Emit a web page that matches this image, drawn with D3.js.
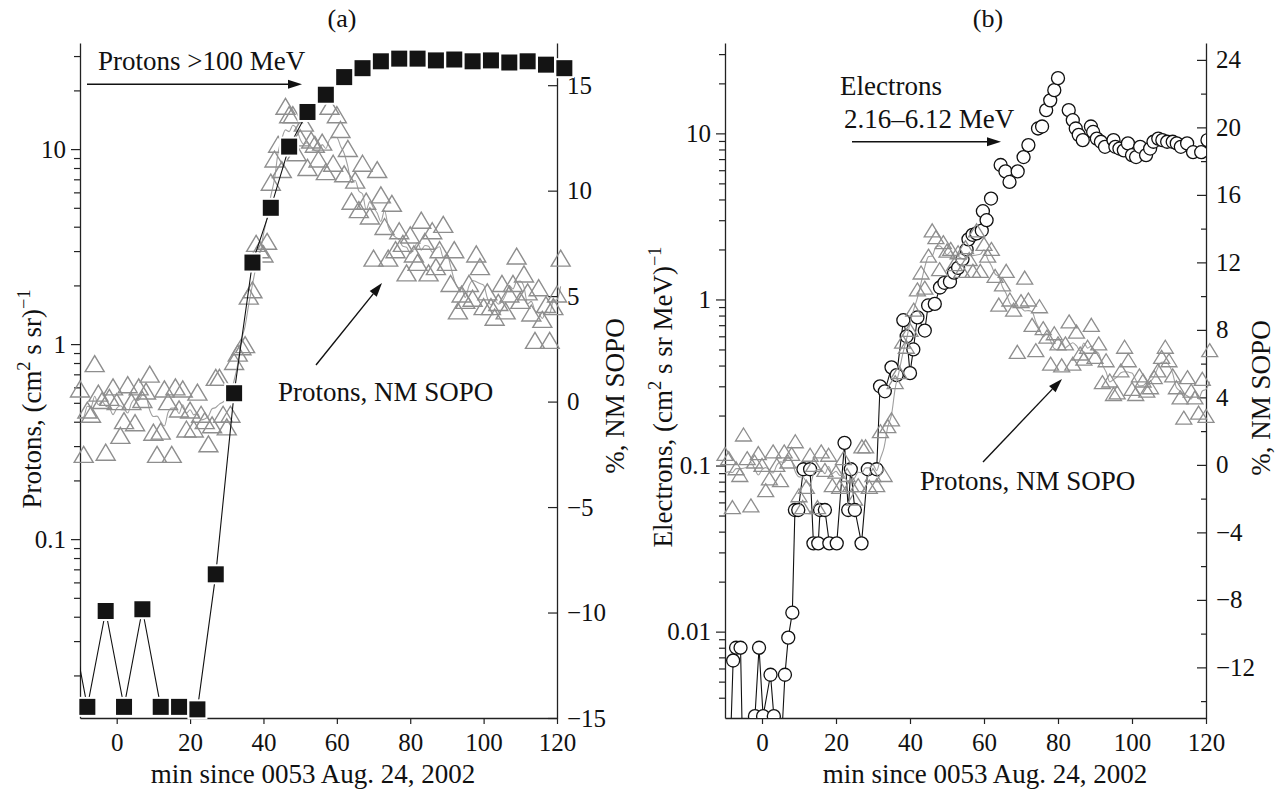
<!DOCTYPE html>
<html><head><meta charset="utf-8">
<script src="https://cdnjs.cloudflare.com/ajax/libs/d3/7.8.5/d3.min.js"></script>
<style>
body{margin:0;background:#fff;}
svg text{font-family:"Liberation Serif","Times New Roman",serif;fill:#111;}
</style></head><body>
<svg id="chart" width="1278" height="791"></svg>
<script>
// ---------------- DATA ----------------
// Panel (a): protons >100 MeV (cm^2 s sr)^-1
const protonTime = [-13,-8,-3,2,7,12,17,22,27,32,37,42,47,52,57,62,67,72,77,82,87,92,97,102,107,112,117,122];
const protonFlux = [0.043,0.0138,0.0428,0.0138,0.0437,0.0138,0.0138,0.0134,0.066,0.56,2.62,5.0,10.3,15.5,19.0,23.4,26.0,28.2,29.1,29.1,28.5,28.8,28.2,28.5,27.8,28.2,27.1,26.0];

// NM SOPO (%) time grid (min)
const nmTime = [-10,-9,-8,-7,-6,-5,-4,-3,-2,-1,0,1,2,3,4,5,6,7,8,9,10,11,12,13,14,15,16,17,18,19,20,21,22,23,24,25,26,27,28,29,30,31,32,33,34,35,36,37,38,39,40,41,42,43,44,45,46,47,48,49,50,51,52,53,54,55,56,57,58,59,60,61,62,63,64,65,66,67,68,69,70,71,72,73,74,75,76,77,78,79,80,81,82,83,84,85,86,87,88,89,90,91,92,93,94,95,96,97,98,99,100,101,102,103,104,105,106,107,108,109,110,111,112,113,114,115,116,117,118,119,120,121];
// Panel (a): NM SOPO %
const nmA = [0.6,-2.5,-0.4,-0.6,1.8,0.4,0.05,-2.4,0.2,0.7,0.0,-1.6,-0.9,0.8,0.0,-1.0,0.7,0.1,0.5,1.3,-1.45,-2.5,-1.4,0.6,0.0,-2.5,0.7,-0.35,0.6,-1.3,-0.4,-1.3,0.45,-0.6,-0.9,-2.0,-1.1,1.15,1.15,-0.6,-1.2,-0.6,1.9,2.3,2.6,2.7,5.0,5.3,7.5,7.2,7.0,7.6,10.4,11.5,12.2,11.0,14.0,13.6,13.6,11.8,12.5,13.2,11.1,12.4,12.2,11.5,12.3,10.9,14.0,11.3,13.6,12.9,10.8,12.0,9.5,10.5,9.1,11.3,9.5,8.8,6.8,11.0,9.8,8.3,6.8,9.4,7.2,8.1,7.5,6.1,7.9,7.0,6.6,8.6,7.6,6.1,8.1,6.4,7.2,8.4,6.6,5.6,7.2,4.3,5.1,4.8,5.6,4.9,7.0,6.4,4.5,5.2,4.5,4.0,4.7,5.6,4.3,5.1,5.6,6.9,4.8,6.05,5.2,4.2,2.9,5.4,3.9,4.6,2.9,4.5,5.1,6.8];
// Panel (b): NM SOPO %
const nmB = [0.65,0.4,-2.5,-0.2,-0.6,1.8,0.4,-2.4,0.2,0.7,0.0,-1.5,-0.8,0.8,0.0,-0.9,0.8,0.2,0.65,1.4,-1.8,-2.5,-1.3,0.6,0.0,-2.5,0.8,-0.3,0.6,-1.2,-0.4,-1.3,0.4,-0.6,-1.2,-2.0,-1.2,1.1,1.1,-1.3,-0.6,-1.2,2.0,-0.6,2.3,2.7,4.9,5.5,7.3,7.0,8.0,9.2,10.4,11.4,10.5,12.4,13.9,13.5,11.6,13.2,12.7,12.8,11.9,12.6,11.5,12.9,12.2,11.5,13.9,11.5,13.1,12.4,12.8,11.2,9.5,10.7,11.5,9.8,9.2,6.7,9.7,11.1,9.8,8.3,6.8,9.4,8.1,7.6,6.0,7.8,7.2,5.9,7.2,8.5,6.0,7.9,6.6,6.3,7.0,8.3,6.4,7.2,4.9,6.2,5.0,4.2,4.3,5.6,7.0,6.2,4.5,4.2,5.3,5.0,4.4,4.6,5.2,5.6,6.4,7.0,6.2,5.3,4.6,4.0,2.8,5.2,4.4,4.0,3.1,5.1,2.9,6.8];

// Panel (b): electrons 2.16-6.12 MeV (cm^2 s sr MeV)^-1
const elecTime = [-9,-7.8,-7,-5.8,-5,-1.9,-0.8,0.3,2.3,3.2,4.5,6.2,7.1,8.2,8.9,9.8,11.2,13,13.9,15.2,15.7,17,18.2,20.2,22.3,23.3,24,25.1,26.9,28.6,31,31.9,33.2,35,36.4,38.2,39.1,40,40.9,42,44,44.9,46.7,48.1,49.3,50.8,51.9,53,54.2,55.3,55.8,56.9,58,59.4,59.7,60.7,61.9,64.5,65.8,66.9,69.1,70.7,72,74.6,75.7,76.8,77.9,79,80,82.9,84,84.8,85.6,86.7,88.9,89.5,90.5,91.6,92.7,95,95.5,96.6,97.8,98.9,100,101.1,102.2,103.8,104.9,105.8,107.1,108.2,109.5,111,112.1,113.2,114.9,116.5,118.7,120.4];
const elecFlux = [0.001,0.0067,0.0080,0.0080,0.001,0.0031,0.0080,0.0031,0.0055,0.0031,0.001,0.0055,0.0092,0.013,0.054,0.054,0.095,0.095,0.034,0.034,0.054,0.054,0.034,0.034,0.137,0.054,0.095,0.054,0.034,0.095,0.095,0.30,0.28,0.39,0.35,0.75,0.60,0.36,0.50,0.78,0.65,0.92,0.94,1.18,1.26,1.28,1.45,1.55,1.75,2.0,2.3,2.45,2.5,2.6,3.4,3.0,4.05,6.45,5.9,5.1,5.9,7.2,8.5,10.7,11.0,13.8,15.8,18.2,21.5,13.8,12.0,10.7,9.8,9.1,11.0,10.2,9.3,8.9,8.3,9.1,8.3,8.1,7.9,8.7,7.4,7.2,8.3,7.4,8.1,8.9,9.3,9.1,8.9,8.9,8.7,8.3,8.7,7.7,7.7,9.1];
const elecLineEnd = 50; // connecting line drawn up to this time

// Tick values
const xTicks = [0,20,40,60,80,100,120];
const leftTicksA = [0.1,1,10];
const leftTicksB = [0.01,0.1,1,10];
const rightTicksA = [-15,-10,-5,0,5,10,15];
const rightTicksB = [-12,-8,-4,0,4,8,12,16,20,24];
const rightMinorB = [-14,-10,-6,-2,2,6,10,14,18,22];

// ---------------- DRAWING ----------------
const svg = d3.select("#chart");
const TF = 25, LF = 27;
const yTop = 43, yBot = 718;

const A = {l:80, r:557};
const B = {l:725, r:1206};

const xA = d3.scaleLinear([-10,120],[A.l,A.r]);
const yA = d3.scaleLog([0.0121,35],[yBot,yTop]);
const rA = d3.scaleLinear([-15,17],[yBot,yTop]);
const xB = d3.scaleLinear([-10,120],[B.l,B.r]);
const yB = d3.scaleLog([0.00302,35],[yBot,yTop]);
const rB = d3.scaleLinear([-15,25],[yBot,yTop]);

const defs = svg.append("defs");
function clip(id, x0, x1){
  defs.append("clipPath").attr("id",id).append("rect")
    .attr("x",x0).attr("y",yTop).attr("width",x1-x0).attr("height",yBot-yTop);
}
clip("clipA",A.l,A.r); clip("clipB",B.l,B.r);

function styleAxis(g){
  g.selectAll("path.domain").attr("stroke","#222").attr("stroke-width",1.3);
  g.selectAll(".tick line").attr("stroke","#222").attr("stroke-width",1.2);
  g.selectAll("text").attr("font-size",TF).attr("font-family","Liberation Serif, Times New Roman, serif").attr("fill","#111");
}

function axes(P, x, yLog, yR, majLog, rMaj, rMin){
  const gx = svg.append("g").attr("transform",`translate(0,${yBot})`)
    .call(d3.axisBottom(x).tickValues(xTicks).tickSize(6).tickSizeOuter(0).tickPadding(9));
  styleAxis(gx);
  const gl = svg.append("g").attr("transform",`translate(${P.l},0)`)
    .call(d3.axisLeft(yLog).tickValues(majLog).tickFormat(d3.format("~g")).tickSize(9).tickSizeOuter(0).tickPadding(5));
  styleAxis(gl);
  const minor = yLog.ticks().filter(v => !majLog.some(m => Math.abs(m - v) < 1e-9));
  const glm = svg.append("g").attr("transform",`translate(${P.l},0)`)
    .call(d3.axisLeft(yLog).tickValues(minor).tickFormat("").tickSize(6));
  glm.select("path.domain").remove();
  styleAxis(glm);
  const gr = svg.append("g").attr("transform",`translate(${P.r},0)`)
    .call(d3.axisRight(yR).tickValues(rMaj).tickSizeInner(-9).tickSizeOuter(0).tickPadding(10));
  styleAxis(gr);
  if(rMin){
    const grm = svg.append("g").attr("transform",`translate(${P.r},0)`)
      .call(d3.axisRight(yR).tickValues(rMin).tickFormat("").tickSizeInner(-5).tickSizeOuter(0));
    grm.select("path.domain").remove();
    styleAxis(grm);
  }
}

function triPath(w,h){ return `M0,${-h/2}L${w/2},${h/2}L${-w/2},${h/2}Z`; }

function rotLabel(x, y, parts){
  const t = svg.append("text").attr("transform",`translate(${x},${y}) rotate(-90)`)
    .attr("text-anchor","middle").attr("font-size",LF);
  let shifted = false;
  parts.forEach(p => {
    const s = t.append("tspan").text(p[0]);
    if(p[1]){ s.attr("font-size",LF*0.68).attr("dy", -LF*0.42); shifted = true; }
    else if(shifted){ s.attr("dy", LF*0.42); shifted = false; }
  });
}
function label(x, y, txt, anchor){
  svg.append("text").attr("x",x).attr("y",y).attr("font-size",LF)
    .attr("text-anchor",anchor||"start").text(txt);
}
function arrow(x1,y1,x2,y2){
  const ang = Math.atan2(y2-y1,x2-x1), L = 14, W = 4.5;
  const bx = x2 - L*Math.cos(ang), by = y2 - L*Math.sin(ang);
  svg.append("line").attr("x1",x1).attr("y1",y1).attr("x2",bx).attr("y2",by)
    .attr("stroke","#111").attr("stroke-width",1.4);
  const px = -Math.sin(ang)*W, py = Math.cos(ang)*W;
  svg.append("path").attr("d",`M${x2},${y2}L${bx+px},${by+py}L${bx-px},${by-py}Z`).attr("fill","#111");
}
// running mean of the plotted NM points (grey trend line)
function smooth(data, k){
  return data.map((d,i)=>({t:d.t, v:d3.mean(data.slice(Math.max(0,i-k), i+k+1), e=>e.v)}));
}

const nmDataA = nmTime.map((t,i)=>({t, v:nmA[i]}));
const nmDataB = nmTime.map((t,i)=>({t, v:nmB[i]}));
const protons = protonTime.map((t,i)=>({t, v:protonFlux[i]}));
const elec = elecTime.map((t,i)=>({t, v:elecFlux[i]}));

// ======== Panel (a) ========
axes(A, xA, yA, rA, leftTicksA, rightTicksA, null);

svg.append("path").datum(smooth(nmDataA,2))
  .attr("d", d3.line().curve(d3.curveMonotoneX).x(d=>xA(d.t)).y(d=>rA(d.v)))
  .attr("fill","none").attr("stroke","#a0a0a0").attr("stroke-width",1.1);
svg.append("g").selectAll("path").data(nmDataA).join("path")
  .attr("transform",d=>`translate(${xA(d.t)},${rA(d.v)})`)
  .attr("d",triPath(19,16)).attr("fill","none").attr("stroke","#8e8e8e").attr("stroke-width",1.4);

svg.append("path").datum(protons).attr("clip-path","url(#clipA)")
  .attr("d", d3.line().x(d=>xA(d.t)).y(d=>yA(d.v)))
  .attr("fill","none").attr("stroke","#111").attr("stroke-width",1.1);
const sq = protons.filter(d=>d.t>=-10);
svg.append("g").selectAll("rect").data(sq).join("rect")
  .attr("x",d=>xA(d.t)-10).attr("y",d=>yA(d.v)-10).attr("width",20).attr("height",20).attr("fill","#fff");
svg.append("g").selectAll("rect").data(sq).join("rect")
  .attr("x",d=>xA(d.t)-8).attr("y",d=>yA(d.v)-8).attr("width",16).attr("height",16).attr("fill","#141414");

svg.append("text").attr("x",342).attr("y",27).attr("font-size",26).attr("text-anchor","middle").text("(a)");
label(313, 783, "min since 0053 Aug. 24, 2002", "middle");
rotLabel(41, 399, [["Protons, (cm",false],["2",true],[" s sr)",false],["\u22121",true]]);
rotLabel(624, 396, [["%, NM SOPO",false]]);
label(98, 69.5, "Protons >100 MeV");
arrow(87, 84.3, 302, 84.3);
label(278, 401, "Protons, NM SOPO");
arrow(316, 365, 382, 283);

// ======== Panel (b) ========
axes(B, xB, yB, rB, leftTicksB, rightTicksB, rightMinorB);

svg.append("path").datum(elec.filter(d=>d.t<=elecLineEnd)).attr("clip-path","url(#clipB)")
  .attr("d", d3.line().x(d=>xB(d.t)).y(d=>yB(Math.max(d.v,1e-4))))
  .attr("fill","none").attr("stroke","#111").attr("stroke-width",1.1);
svg.append("g").attr("clip-path","url(#clipB)").selectAll("circle")
  .data(elec.filter(d=>d.v>=yB.domain()[0])).join("circle")
  .attr("cx",d=>xB(d.t)).attr("cy",d=>yB(d.v)).attr("r",6.5)
  .attr("fill","#fff").attr("stroke","#111").attr("stroke-width",1.3);

svg.append("path").datum(smooth(nmDataB,2))
  .attr("d", d3.line().curve(d3.curveMonotoneX).x(d=>xB(d.t)).y(d=>rB(d.v)))
  .attr("fill","none").attr("stroke","#a0a0a0").attr("stroke-width",1.1);
svg.append("g").selectAll("path").data(nmDataB).join("path")
  .attr("transform",d=>`translate(${xB(d.t)},${rB(d.v)})`)
  .attr("d",triPath(16,13)).attr("fill","none").attr("stroke","#8e8e8e").attr("stroke-width",1.3);

svg.append("text").attr("x",988).attr("y",27).attr("font-size",26).attr("text-anchor","middle").text("(b)");
label(985, 783, "min since 0053 Aug. 24, 2002", "middle");
rotLabel(672, 397, [["Electrons, (cm",false],["2",true],[" s sr MeV)",false],["\u22121",true]]);
rotLabel(1270, 398, [["%, NM SOPO",false]]);
label(840, 95, "Electrons");
label(844, 128, "2.16\u20136.12 MeV");
arrow(852, 141.7, 1001, 141.7);
label(920, 490, "Protons, NM SOPO");
arrow(983, 462, 1062, 379);
</script>
</body></html>
